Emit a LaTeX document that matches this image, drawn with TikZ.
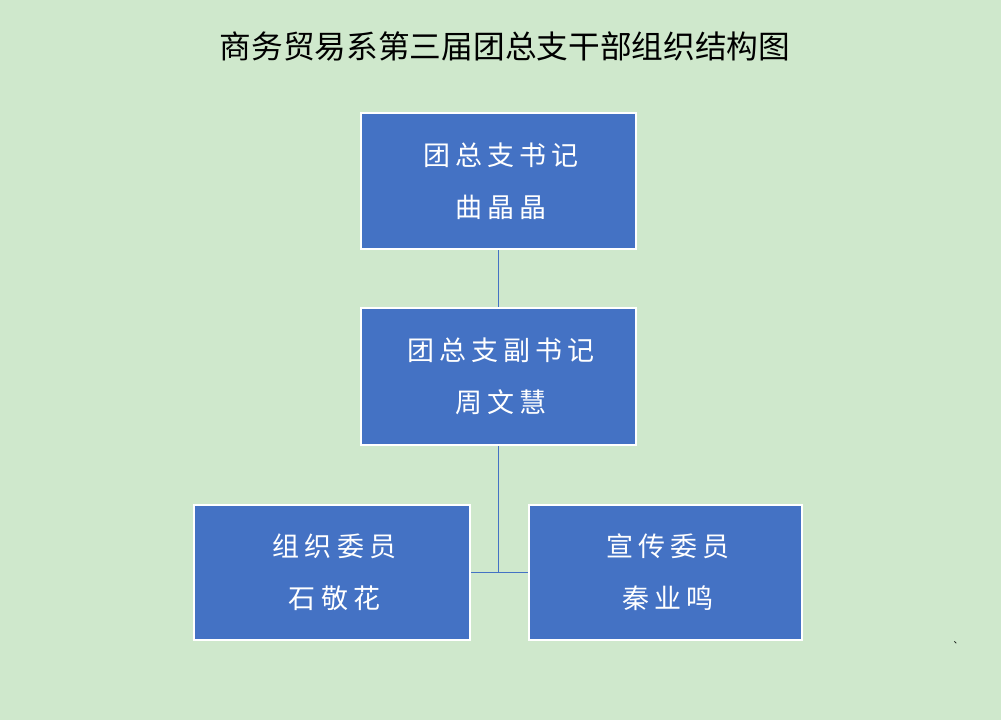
\documentclass[tikz,border=0pt]{standalone}
\usepackage{fontspec}
\setmainfont{Noto Sans CJK SC}
\newfontfamily\titlefont{Noto Sans CJK SC}
\newfontfamily\boxfont[LetterSpace=19]{Noto Sans CJK SC}
\newcommand{\lsp}{\hspace*{5pt}}
\definecolor{bgc}{HTML}{CFE8CC}
\definecolor{boxblue}{HTML}{4472C4}
\definecolor{linec}{HTML}{4472C4}
\tikzset{
  orgbox/.style={draw=white, line width=2pt, fill=boxblue, text=white, align=center, inner sep=0pt,
    font=\boxfont\fontsize{27}{52}\selectfont},
  conn/.style={draw=linec, line width=1pt},
}
\begin{document}
\begin{tikzpicture}[x=1pt,y=-1pt]
\fill[bgc] (0,0) rectangle (1001,720);
\useasboundingbox (0,0) rectangle (1001,720);
\node[font=\titlefont\fontsize{31.7}{36}\selectfont, text=black] (title) at (505,46) {商务贸易系第三届团总支干部组织结构图};
\node[orgbox, minimum width=275pt, minimum height=136pt] (b1) at (498.5,181) {\lsp 团总支书记\\\lsp 曲晶晶};
\node[orgbox, minimum width=275pt, minimum height=137pt] (b2) at (498.5,376.5) {\lsp 团总支副书记\\\lsp 周文慧};
\node[orgbox, minimum width=276pt, minimum height=135pt] (b3) at (332,572.5) {\lsp 组织委员\\\lsp 石敬花};
\node[orgbox, minimum width=273pt, minimum height=135pt] (b4) at (665.5,572.5) {\lsp 宣传委员\\\lsp 秦业鸣};
\draw[conn] (b1.south) -- (b2.north);
\draw[conn] (b2.south) -- (b2.south |- b3.east);
\draw[conn] (b3.east) -- (b4.west);
\node[font=\titlefont\fontsize{9}{10}\selectfont, text=black, inner sep=0pt] (mark) at (958,643) {、};
\end{tikzpicture}
\end{document}
